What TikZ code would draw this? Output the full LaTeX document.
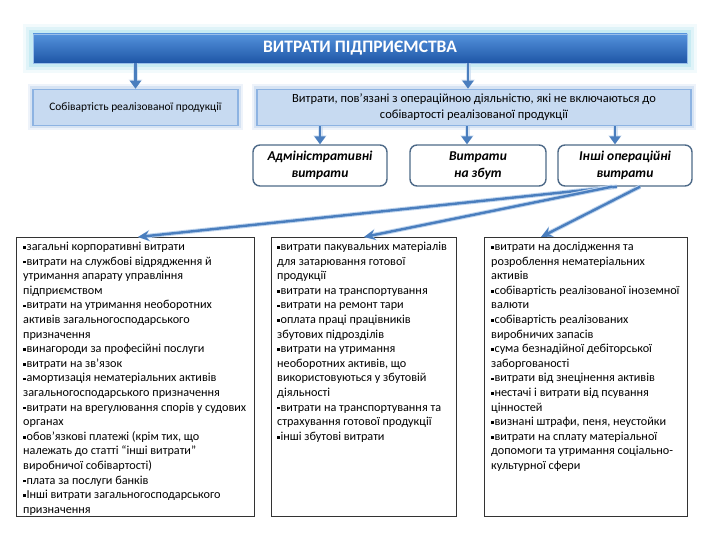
\documentclass[tikz,border=0pt]{standalone}
\usepackage{fontspec}
\setmainfont{Carlito}
\usetikzlibrary{arrows.meta,calc}
\definecolor{glowc}{RGB}{190,232,242}
\definecolor{bantop}{RGB}{84,146,220}
\definecolor{banbot}{RGB}{30,86,166}
\definecolor{boxfill}{RGB}{199,218,241}
\definecolor{boxline}{RGB}{141,179,226}
\definecolor{boxshadow}{RGB}{170,198,232}
\definecolor{rndline}{RGB}{78,106,136}
\definecolor{arrc}{RGB}{74,126,190}
\definecolor{arrglow}{RGB}{190,212,238}
\newcommand\bl{\raisebox{0.3ex}{\rule{2.6pt}{2.6pt}}\hspace{0.8pt}}
\tikzset{
  banner/.style={rectangle, inner sep=0pt, top color=bantop, bottom color=banbot,
    draw=bantop!60!white, line width=0.8pt,
    preaction={draw=glowc, line width=20pt, opacity=0.2, rounded corners=8pt},
    preaction={draw=glowc, line width=14pt, opacity=0.35, rounded corners=6pt},
    preaction={draw=glowc, line width=8pt, opacity=0.7, rounded corners=3pt},
    text=white, font=\fontsize{17.5}{20}\selectfont\bfseries},
  bluebox/.style={rectangle, inner sep=0pt, fill=boxfill, draw=boxline, line width=1.6pt,
    preaction={draw=boxshadow, line width=10pt, opacity=0.2, rounded corners=5pt},
    preaction={draw=boxshadow, line width=6pt, opacity=0.35, rounded corners=3pt},
    align=center},
  rndbox/.style={rectangle, rounded corners=7pt, inner sep=0pt, fill=white, draw=rndline,
    line width=1.4pt, align=center,
    font=\fontsize{13.5}{17}\selectfont\bfseries\itshape},
  listbox/.style={rectangle, inner sep=0pt, draw=black!80, line width=0.7pt, fill=white},
  listtext/.style={anchor=north west, inner sep=0pt, align=left,
    font=\fontsize{12.2}{14.6}\selectfont},
  dnarr/.style={draw=arrc, line width=2.6pt, -{Triangle[length=8pt,width=11pt]},
    preaction={draw=arrglow, line width=5pt, opacity=0.6, -{Triangle[length=9pt,width=13pt]}}},
  diagarr/.style={draw=arrc, line width=2.4pt, -{Stealth[length=11pt,width=10pt]},
    preaction={draw=arrglow, line width=4.4pt, -{Stealth[length=12pt,width=12pt]}}}
}
\begin{document}
\begin{tikzpicture}[x=1pt,y=-1pt]
\useasboundingbox[fill=white] (0,0) rectangle (720,540);

\node[banner, minimum width=654pt, minimum height=29pt] (ban) at (360,48.5) {ВИТРАТИ ПІДПРИЄМСТВА};

\node[bluebox, minimum width=205pt, minimum height=36pt, font=\fontsize{11.4}{14}\selectfont] (b1) at (135.5,107.5) {Собівартість реалізованої продукції};
\node[bluebox, minimum width=434pt, minimum height=36pt, font=\fontsize{12.5}{16}\selectfont] (b2) at (474,107.5)
  {Витрати, пов’язані з операційною діяльністю, які не включаються до\\собівартості реалізованої продукції};

\node[rndbox, minimum width=134pt, minimum height=41pt] (ra) at (320,165.5) {Адміністративні\\витрати};
\node[rndbox, minimum width=136pt, minimum height=41pt] (rb) at (478,165.5) {Витрати\\на збут};
\node[rndbox, minimum width=134pt, minimum height=41pt] (rc) at (625,165.5) {Інші операційні\\витрати};

\node[listbox, anchor=north west, minimum width=238pt, minimum height=279pt] (l1) at (16,237) {};
\node[listbox, anchor=north west, minimum width=185pt, minimum height=279pt] (l2) at (271,237) {};
\node[listbox, anchor=north west, minimum width=203pt, minimum height=279pt] (l3) at (484,237) {};

\node[listtext] (t1) at ([xshift=7pt,yshift=-5pt]l1.north west) {%
\bl загальні корпоративні витрати\\
\bl витрати на службові відрядження й\\
утримання апарату управління\\
підприємством\\
\bl витрати на утримання необоротних\\
активів загальногосподарського\\
призначення\\
\bl винагороди за професійні послуги\\
\bl витрати на зв’язок\\
\bl амортизація нематеріальних активів\\
загальногосподарського призначення\\
\bl витрати на врегулювання спорів у судових\\
органах\\
\bl обов’язкові платежі (крім тих, що\\
належать до статті “інші витрати”\\
виробничої собівартості)\\
\bl плата за послуги банків\\
\bl Інші витрати загальногосподарського\\
призначення};

\node[listtext] (t2) at ([xshift=6pt,yshift=-5pt]l2.north west) {%
\bl витрати пакувальних матеріалів\\
для затарювання готової\\
продукції\\
\bl витрати на транспортування\\
\bl витрати на ремонт тари\\
\bl оплата праці працівників\\
збутових підрозділів\\
\bl витрати на утримання\\
необоротних активів, що\\
використовуються у збутовій\\
діяльності\\
\bl витрати на транспортування та\\
страхування готової продукції\\
\bl інші збутові витрати};

\node[listtext] (t3) at ([xshift=7pt,yshift=-5pt]l3.north west) {%
\bl витрати на дослідження та\\
розроблення нематеріальних\\
активів\\
\bl собівартість реалізованої іноземної\\
валюти\\
\bl собівартість реалізованих\\
виробничих запасів\\
\bl сума безнадійної дебіторської\\
заборгованості\\
\bl витрати від знецінення активів\\
\bl нестачі і витрати від псування\\
цінностей\\
\bl визнані штрафи, пеня, неустойки\\
\bl витрати на сплату матеріальної\\
допомоги та утримання соціально-\\
культурної сфери};

% arrows
\draw[dnarr] (b1.north |- ban.south) -- (b1.north);
\draw[dnarr] ([xshift=-6pt]b2.north |- ban.south) -- ([xshift=-6pt]b2.north);
\draw[dnarr] (ra.north |- b2.south) -- (ra.north);
\draw[dnarr] ([xshift=-11pt]rb.north |- b2.south) -- ([xshift=-11pt]rb.north);
\draw[dnarr] ([xshift=-10pt]rc.north |- b2.south) -- ([xshift=-10pt]rc.north);

\draw[diagarr] ([xshift=-8pt]rc.south) -- ([xshift=122pt]l1.north west);
\draw[diagarr] ([xshift=-13pt]rc.south) -- ([xshift=93pt]l2.north west);
\draw[diagarr] ([xshift=15pt]rc.south) -- ([xshift=57pt]l3.north west);
\end{tikzpicture}
\end{document}
